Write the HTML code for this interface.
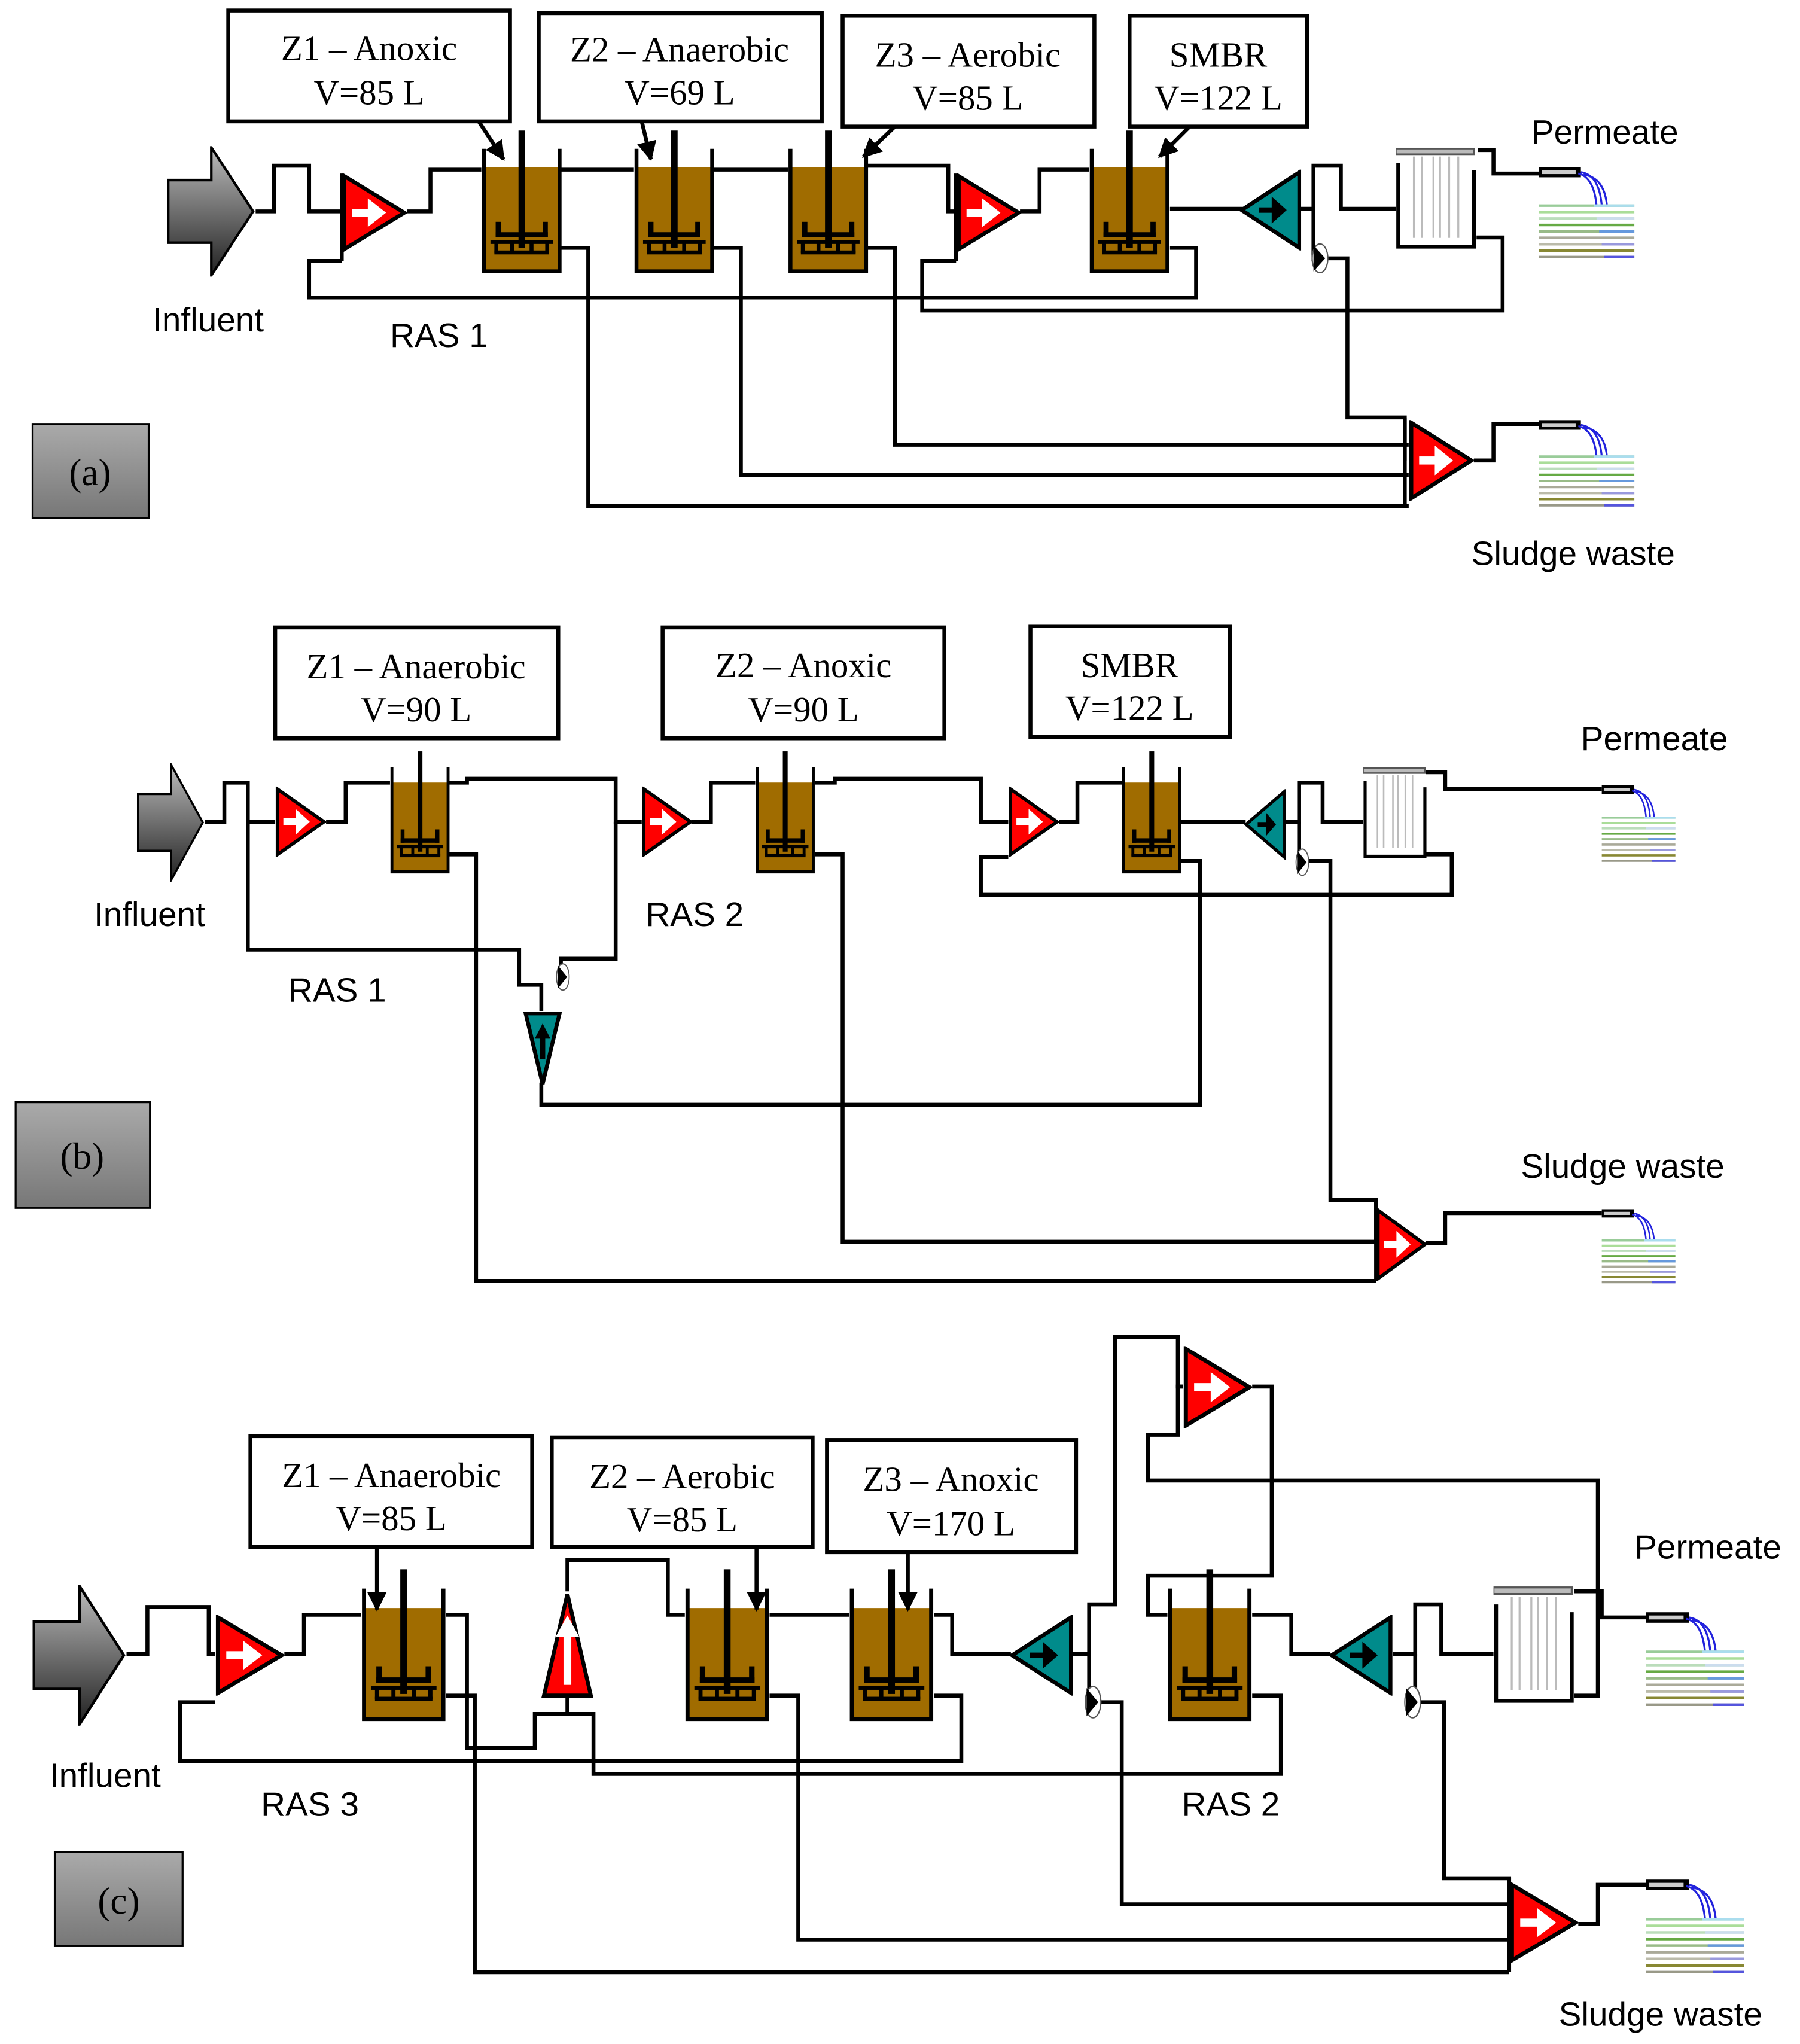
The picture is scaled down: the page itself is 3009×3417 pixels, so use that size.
<!DOCTYPE html>
<html><head><meta charset="utf-8"><style>
html,body{margin:0;padding:0;background:#fff}
svg{display:block}
.l{fill:none;stroke:#000;stroke-width:3;stroke-linejoin:miter}
.bx{fill:#fff;stroke:#000;stroke-width:3}
.st{font-family:"Liberation Serif",serif;font-size:27px;text-anchor:middle}
.ss{font-family:"Liberation Sans",sans-serif;font-size:26px}
</style></head><body>
<svg width="3009" height="3417" viewBox="0 0 1380 1567" xmlns="http://www.w3.org/2000/svg">
<defs>
<linearGradient id="gg" x1="0" y1="0" x2="0" y2="1"><stop offset="0" stop-color="#aaa"/><stop offset="1" stop-color="#777"/></linearGradient>
<linearGradient id="ga" x1="0" y1="0" x2="0" y2="1"><stop offset="0" stop-color="#bbb"/><stop offset="1" stop-color="#222"/></linearGradient>
<symbol id="tank" viewBox="0 0 62 110" preserveAspectRatio="none">
<rect x="2" y="28" width="58" height="80" fill="#a06c00"/>
<polyline points="2,14 2,108 60,108 60,14" fill="none" stroke="#000" stroke-width="3"/>
<rect x="28.5" y="0" width="5" height="90" fill="#000"/>
<rect x="11" y="78" width="40" height="4" fill="#000"/>
<rect x="11" y="70" width="4" height="12" fill="#000"/>
<rect x="47" y="70" width="4" height="12" fill="#000"/>
<rect x="7" y="84" width="48" height="3" fill="#000"/>
<rect x="10" y="92" width="42" height="3" fill="#000"/>
<rect x="10" y="84" width="3" height="10" fill="#000"/><rect x="22" y="84" width="3" height="10" fill="#000"/><rect x="37" y="84" width="3" height="10" fill="#000"/><rect x="49" y="84" width="3" height="10" fill="#000"/>
</symbol>
<symbol id="rp" viewBox="0 0 50 60" preserveAspectRatio="none">
<polygon points="2,2 48,30 2,58" fill="#f00" stroke="#000" stroke-width="3"/>
<rect x="8" y="27" width="14" height="6" fill="#fff"/><polygon points="20,19 34,30 20,41" fill="#fff"/>
</symbol>
<symbol id="rpu" viewBox="0 0 40 80" preserveAspectRatio="none">
<polygon points="20,2 38,78 2,78" fill="#f00" stroke="#000" stroke-width="3"/>
<rect x="17" y="30" width="6" height="40" fill="#fff"/><polygon points="11,34 20,18 29,34" fill="#fff"/>
</symbol>
<symbol id="tp" viewBox="0 0 50 60" preserveAspectRatio="none">
<polygon points="48,2 2,30 48,58" fill="#008b8b" stroke="#000" stroke-width="3"/>
<rect x="16" y="28" width="14" height="4" fill="#000"/><polygon points="26,20 38,30 26,40" fill="#000"/>
</symbol>
<symbol id="tpd" viewBox="0 0 30 60" preserveAspectRatio="none">
<polygon points="2,2 28,2 15,58" fill="#008b8b" stroke="#000" stroke-width="3"/>
<rect x="13" y="16" width="4" height="22" fill="#000"/><polygon points="9,22 15,10 21,22" fill="#000"/>
</symbol>
<symbol id="mem" viewBox="0 0 62 90" preserveAspectRatio="none">
<rect x="0" y="1" width="60" height="5" fill="#bbb" stroke="#555" stroke-width="1.5"/>
<polyline points="2,14 2,88 60,88 60,20" fill="none" stroke="#000" stroke-width="3"/>
<g stroke="#bbb" stroke-width="1.5"><line x1="14" y1="8" x2="14" y2="80"/><line x1="20" y1="8" x2="20" y2="80"/><line x1="29" y1="8" x2="29" y2="80"/><line x1="34" y1="8" x2="34" y2="80"/><line x1="41" y1="8" x2="41" y2="80"/><line x1="48" y1="8" x2="48" y2="80"/></g>
</symbol>
<symbol id="out" viewBox="0 0 75 75" preserveAspectRatio="none">
<rect x="0" y="0" width="32" height="8" fill="#000"/><rect x="2" y="2.5" width="26" height="3" fill="#ccc"/>
<path d="M32,4 Q46,6 48,30 M34,6 Q50,8 52,30 M30,5 Q42,8 44,30" fill="none" stroke="#22d" stroke-width="1.5"/>
<g stroke-width="2"><line x1="0" y1="30" x2="73" y2="30" stroke="#9c9"/><line x1="0" y1="35" x2="73" y2="35" stroke="#ad9"/><line x1="0" y1="40" x2="73" y2="40" stroke="#bdb"/><line x1="0" y1="45" x2="73" y2="45" stroke="#6a4"/><line x1="0" y1="50" x2="73" y2="50" stroke="#9b8"/><line x1="0" y1="55" x2="73" y2="55" stroke="#aa9"/><line x1="0" y1="60" x2="73" y2="60" stroke="#bba"/><line x1="0" y1="65" x2="73" y2="65" stroke="#883"/><line x1="0" y1="70" x2="73" y2="70" stroke="#998"/>
<line x1="42" y1="30" x2="73" y2="30" stroke="#ade"/><line x1="44" y1="40" x2="73" y2="40" stroke="#cde"/><line x1="46" y1="50" x2="73" y2="50" stroke="#69d"/><line x1="48" y1="60" x2="73" y2="60" stroke="#99d"/><line x1="50" y1="70" x2="73" y2="70" stroke="#55d"/></g>
</symbol>
<symbol id="inf" viewBox="0 0 70 100" preserveAspectRatio="none">
<polygon points="1,26 35,26 35,1 68,50 35,99 35,74 1,74" fill="url(#ga)" stroke="#000" stroke-width="2"/>
</symbol>
<symbol id="vl" viewBox="0 0 16 24" preserveAspectRatio="none">
<ellipse cx="8" cy="12" rx="6" ry="11" fill="#fff" stroke="#555" stroke-width="1"/><polygon points="3,2 12,12 3,22" fill="#000"/>
</symbol>
<marker id="ar" viewBox="0 0 10 10" refX="9" refY="5" markerWidth="5" markerHeight="5" orient="auto"><polygon points="0,0 10,5 0,10" fill="#000"/></marker>
</defs>

<!-- ============ PANEL A ============ -->
<g class="l">
<polyline points="196,162 210,162 210,127 237,127 237,162 262,162"/>
<polyline points="262,200 237,200 237,228 917,228 917,190 897,190"/>
<polyline points="312,162 330,162 330,130 369,130"/>
<polyline points="430,130 486,130"/><polyline points="547,130 604,130"/>
<polyline points="665,127 727,127 727,162 733,162"/>
<polyline points="733,200 707,200 707,238 1152,238 1152,182 1132,182"/>
<polyline points="782,162 797,162 797,130 835,130"/>
<polyline points="897,160 953,160"/>
<polyline points="996,160 1007,160 1007,127 1028,127 1028,160 1070,160"/>
<polyline points="1012,198 1033,198 1033,320 1077,320 1077,353"/>
<polyline points="1133,115 1145,115 1145,133 1180,133"/>
<polyline points="430,190 451,190 451,388 1080,388"/>
<polyline points="547,190 568,190 568,364 1080,364"/>
<polyline points="665,190 686,190 686,341 1080,341"/>
<polyline points="1130,353 1145,353 1145,325 1180,325"/>
<line x1="262" y1="133" x2="262" y2="200"/><line x1="733" y1="133" x2="733" y2="200"/>
<line x1="1007" y1="160" x2="1007" y2="200"/>
<line x1="1077" y1="320" x2="1077" y2="388"/>
</g>
<use href="#inf" x="128" y="112" width="68" height="100"/>
<use href="#rp" x="262" y="133" width="50" height="60"/>
<use href="#rp" x="733" y="133" width="50" height="60"/>
<use href="#tank" x="369" y="100" width="62" height="110"/>
<use href="#tank" x="486" y="100" width="62" height="110"/>
<use href="#tank" x="604" y="100" width="62" height="110"/>
<use href="#tank" x="835" y="100" width="62" height="110"/>
<use href="#tp" x="950" y="130" width="48" height="62"/>
<use href="#vl" x="1004" y="186" width="16" height="24"/>
<use href="#mem" x="1070" y="113" width="62" height="78"/>
<use href="#out" x="1180" y="128" width="75" height="74"/>
<use href="#rp" x="1080" y="322" width="50" height="62"/>
<use href="#out" x="1180" y="322" width="75" height="70"/>
<rect class="bx" x="175" y="8" width="216" height="85"/><text class="st" x="283" y="46">Z1 – Anoxic</text><text class="st" x="283" y="80">V=85 L</text>
<rect class="bx" x="413" y="10" width="217" height="83"/><text class="st" x="521" y="47">Z2 – Anaerobic</text><text class="st" x="521" y="80">V=69 L</text>
<rect class="bx" x="646" y="12" width="193" height="85"/><text class="st" x="742" y="51">Z3 – Aerobic</text><text class="st" x="742" y="84">V=85 L</text>
<rect class="bx" x="866" y="12" width="136" height="85"/><text class="st" x="934" y="51">SMBR</text><text class="st" x="934" y="84">V=122 L</text>
<g stroke="#000" stroke-width="3" marker-end="url(#ar)"><line x1="367" y1="93" x2="386" y2="122"/><line x1="492" y1="93" x2="499" y2="122"/><line x1="686" y1="97" x2="662" y2="120"/><line x1="912" y1="97" x2="889" y2="120"/></g>
<text class="ss" x="1174" y="110">Permeate</text>
<text class="ss" x="117" y="254">Influent</text>
<text class="ss" x="299" y="266">RAS 1</text>
<text class="ss" x="1128" y="433">Sludge waste</text>
<rect x="25" y="325" width="89" height="72" fill="url(#gg)" stroke="#000" stroke-width="1.5"/><text class="st" x="69" y="372" style="font-size:29px">(a)</text>

<!-- ============ PANEL B ============ -->
<g class="l">
<polyline points="157,630 172,630 172,600 190,600 190,630 211,630"/>
<polyline points="250,630 265,630 265,600 299,600"/>
<polyline points="344,600 358,600 358,597 472,597 472,630 492,630"/>
<polyline points="530,630 545,630 545,600 579,600"/>
<polyline points="625,600 640,600 640,597 752,597 752,630 773,630"/>
<polyline points="812,630 826,630 826,600 860,600"/>
<polyline points="905,630 955,630"/>
<polyline points="985,630 996,630 996,600 1014,600 1014,630 1045,630"/>
<polyline points="1093,592 1108,592 1108,605 1228,605"/>
<polyline points="1093,655 1113,655 1113,686 752,686 752,657 773,657"/>
<polyline points="1000,660 1020,660 1020,920 1055,920 1055,953"/>
<polyline points="190,630 190,728 398,728 398,755 415,755 415,775"/>
<polyline points="472,630 472,735 430,735 430,748"/>
<polyline points="415,830 415,847 920,847 920,660 905,660"/>
<polyline points="344,655 365,655 365,982 1055,982"/>
<polyline points="625,655 646,655 646,952 1055,952"/>
<polyline points="1093,953 1108,953 1108,930 1228,930"/>
<line x1="996" y1="630" x2="996" y2="665"/>
<line x1="1055" y1="920" x2="1055" y2="982"/>
</g>
<use href="#inf" x="105" y="585" width="52" height="91"/>
<use href="#rp" x="211" y="603" width="39" height="54"/>
<use href="#rp" x="492" y="603" width="39" height="54"/>
<use href="#rp" x="773" y="603" width="39" height="54"/>
<use href="#tank" x="299" y="576" width="46" height="94"/>
<use href="#tank" x="579" y="576" width="46" height="94"/>
<use href="#tank" x="860" y="576" width="46" height="94"/>
<use href="#tp" x="954" y="605" width="32" height="54"/>
<use href="#vl" x="992" y="650" width="13" height="22"/>
<use href="#vl" x="425" y="738" width="13" height="22"/>
<use href="#tpd" x="401" y="775" width="30" height="58"/>
<use href="#mem" x="1045" y="588" width="49" height="70"/>
<use href="#out" x="1228" y="602" width="58" height="62"/>
<use href="#rp" x="1055" y="926" width="39" height="56"/>
<use href="#out" x="1228" y="927" width="58" height="60"/>
<rect class="bx" x="211" y="481" width="217" height="85"/><text class="st" x="319" y="520">Z1 – Anaerobic</text><text class="st" x="319" y="553">V=90 L</text>
<rect class="bx" x="508" y="481" width="216" height="85"/><text class="st" x="616" y="519">Z2 – Anoxic</text><text class="st" x="616" y="553">V=90 L</text>
<rect class="bx" x="790" y="480" width="153" height="85"/><text class="st" x="866" y="519">SMBR</text><text class="st" x="866" y="552">V=122 L</text>
<text class="ss" x="1212" y="575">Permeate</text>
<text class="ss" x="72" y="710">Influent</text>
<text class="ss" x="495" y="710">RAS 2</text>
<text class="ss" x="221" y="768">RAS 1</text>
<text class="ss" x="1166" y="903">Sludge waste</text>
<rect x="12" y="845" width="103" height="81" fill="url(#gg)" stroke="#000" stroke-width="1.5"/><text class="st" x="63" y="896" style="font-size:29px">(b)</text>

<!-- ============ PANEL C ============ -->
<g class="l">
<polyline points="97,1268 113,1268 113,1232 160,1232 160,1268 165,1268"/>
<polyline points="165,1305 138,1305 138,1350 737,1350 737,1300 716,1300"/>
<polyline points="218,1268 233,1268 233,1238 277,1238"/>
<polyline points="342,1238 358,1238 358,1340 410,1340 410,1314 455,1314 455,1360 982,1360 982,1300 960,1300"/>
<polyline points="435,1300 435,1314"/>
<polyline points="435,1220 435,1196 512,1196 512,1238 525,1238"/>
<polyline points="590,1238 651,1238"/>
<polyline points="716,1238 730,1238 730,1268 775,1268"/>
<polyline points="822,1268 835,1268 835,1230 855,1230 855,1025 903,1025 903,1063 907,1063"/>
<polyline points="907,1063 903,1063 903,1100 880,1100 880,1135 1225,1135 1225,1300 1207,1300"/>
<polyline points="960,1063 975,1063 975,1208 880,1208 880,1238 895,1238"/>
<polyline points="960,1238 990,1238 990,1268 1020,1268"/>
<polyline points="1068,1268 1085,1268 1085,1230 1105,1230 1105,1268 1145,1268"/>
<polyline points="1207,1220 1228,1220 1228,1240 1262,1240"/>
<polyline points="835,1268 835,1305 860,1305 860,1460 1157,1460"/>
<polyline points="1085,1268 1085,1305 1107,1305 1107,1440 1157,1440 1157,1475"/>
<polyline points="342,1300 364,1300 364,1512 1157,1512"/>
<polyline points="590,1300 612,1300 612,1487 1157,1487"/>
<polyline points="1210,1475 1225,1475 1225,1445 1262,1445"/>
<line x1="1157" y1="1440" x2="1157" y2="1512"/>
</g>
<use href="#inf" x="25" y="1215" width="72" height="108"/>
<use href="#rp" x="165" y="1238" width="53" height="62"/>
<use href="#rpu" x="415" y="1220" width="40" height="82"/>
<use href="#rp" x="907" y="1032" width="53" height="63"/>
<use href="#tank" x="277" y="1203" width="65" height="117"/>
<use href="#tank" x="525" y="1203" width="65" height="117"/>
<use href="#tank" x="651" y="1203" width="65" height="117"/>
<use href="#tank" x="895" y="1203" width="65" height="117"/>
<use href="#tp" x="774" y="1238" width="49" height="62"/>
<use href="#tp" x="1019" y="1238" width="49" height="62"/>
<use href="#vl" x="830" y="1292" width="16" height="26"/>
<use href="#vl" x="1075" y="1292" width="16" height="26"/>
<use href="#mem" x="1145" y="1216" width="62" height="90"/>
<use href="#out" x="1262" y="1236" width="77" height="76"/>
<use href="#rp" x="1157" y="1443" width="53" height="62"/>
<use href="#out" x="1262" y="1441" width="77" height="76"/>
<rect class="bx" x="192" y="1101" width="216" height="85"/><text class="st" x="300" y="1140">Z1 – Anaerobic</text><text class="st" x="300" y="1173">V=85 L</text>
<rect class="bx" x="423" y="1102" width="200" height="84"/><text class="st" x="523" y="1141">Z2 – Aerobic</text><text class="st" x="523" y="1174">V=85 L</text>
<rect class="bx" x="634" y="1104" width="191" height="86"/><text class="st" x="729" y="1143">Z3 – Anoxic</text><text class="st" x="729" y="1177">V=170 L</text>
<g stroke="#000" stroke-width="3" marker-end="url(#ar)"><line x1="289" y1="1186" x2="289" y2="1234"/><line x1="580" y1="1186" x2="580" y2="1234"/><line x1="696" y1="1190" x2="696" y2="1234"/></g>
<text class="ss" x="1253" y="1195">Permeate</text>
<text class="ss" x="38" y="1370">Influent</text>
<text class="ss" x="200" y="1392">RAS 3</text>
<text class="ss" x="906" y="1392">RAS 2</text>
<text class="ss" x="1195" y="1553">Sludge waste</text>
<rect x="42" y="1420" width="98" height="72" fill="url(#gg)" stroke="#000" stroke-width="1.5"/><text class="st" x="91" y="1467" style="font-size:29px">(c)</text>
</svg>
</body></html>
